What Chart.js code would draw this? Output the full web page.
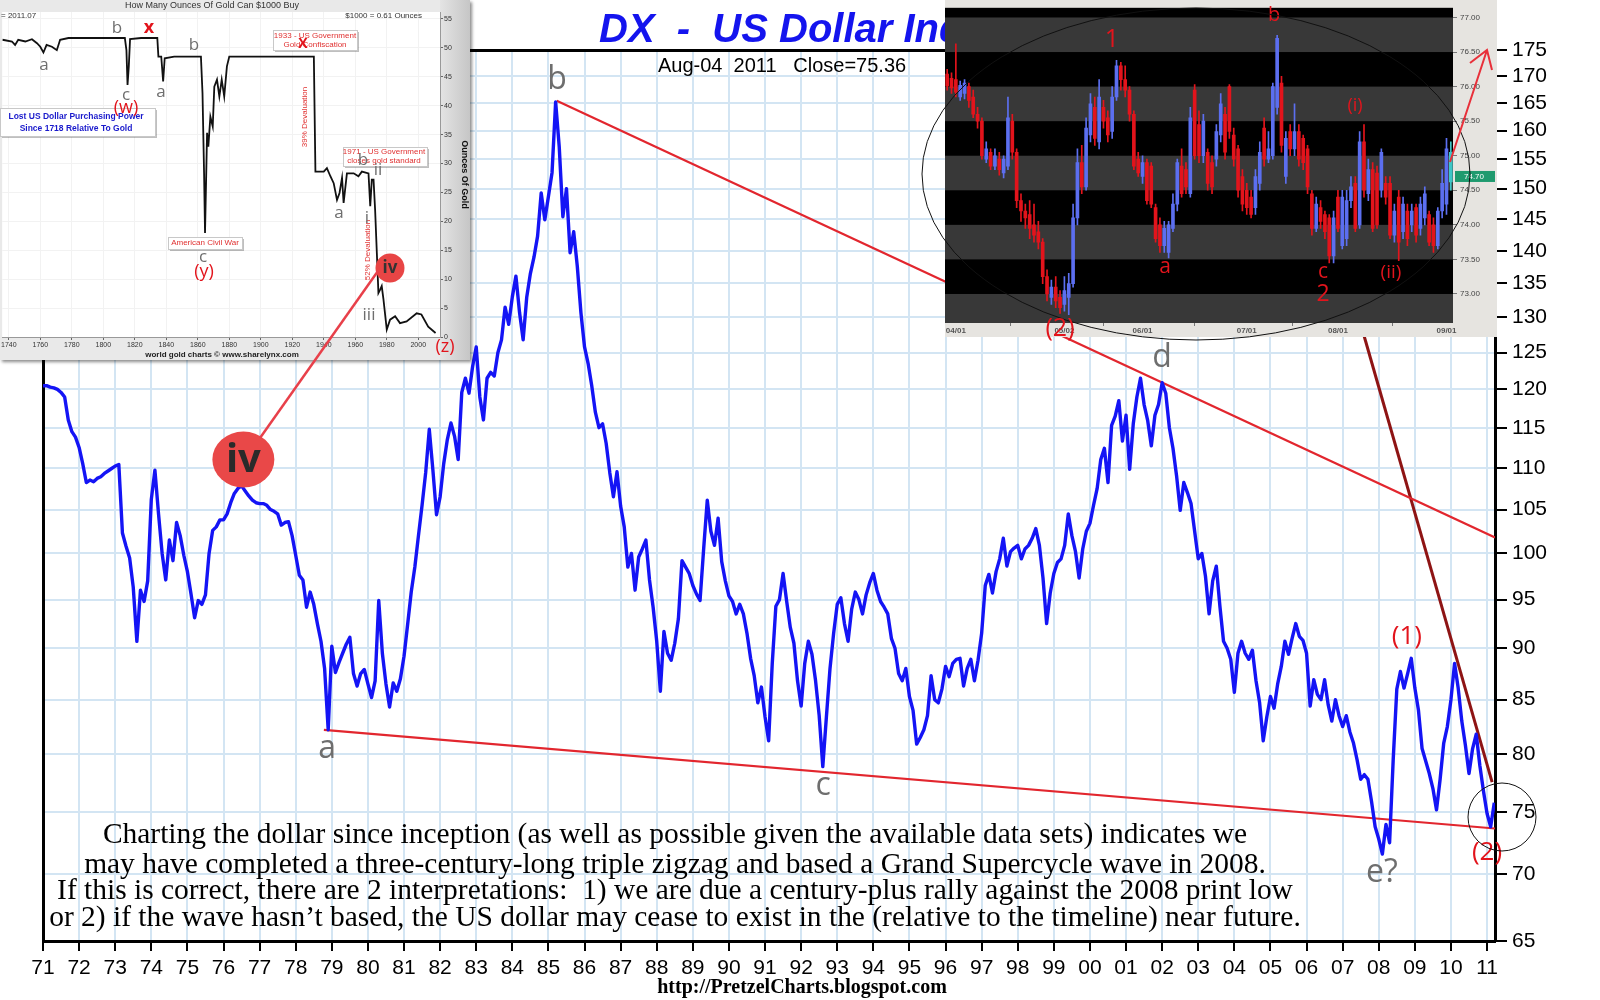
<!DOCTYPE html>
<html><head><meta charset="utf-8">
<script src="https://cdn.jsdelivr.net/npm/chart.js@4.4.1/dist/chart.umd.min.js"></script>
<style>
html,body{margin:0;padding:0;background:#fff;}
#wrap{position:relative;width:1600px;height:1000px;overflow:hidden;background:#fff;}
canvas{position:absolute;}
#main{left:0;top:0;}
#gold{left:0;top:0;background:#e9e9e9;box-shadow:2px 2px 3px rgba(0,0,0,0.45);}
#candle{left:945px;top:0;background:#e6e4e0;}
#over{left:0;top:0;pointer-events:none;}
</style></head>
<body><div id="wrap">
<canvas id="main" width="1600" height="1000"></canvas>
<canvas id="gold" width="470" height="360"></canvas>
<canvas id="candle" width="552" height="337"></canvas>
<canvas id="over" width="1600" height="1000"></canvas>
</div>
<script>
// ================= DATA =================
// Main chart: DX US Dollar Index, one reading every 0.1 year from 1971.0
const dxStartYear = 1971.0;
const dxStep = 0.1;
const dx1970s = [
  120.5,120.5,120.3,120.2,120.0,119.6,119.0,116.0,114.5,113.8,
  112.5,110.5,108.2,108.5,108.3,108.7,108.9,109.3,109.6,109.9,
  110.2,110.4,102.3,100.8,99.5,96.3,90.7,96.0,94.8,97.0,
  106.2,109.7,104.5,100.0,97.1,101.5,99.2,103.5,102.0,99.8,
  98.0,95.6,93.1,94.9,94.5,95.5,100.0,102.6,103.0,103.8,
  103.8,104.5,105.8,106.9,107.5,107.8,107.2,106.6,106.1,105.8,
  105.7,105.7,105.5,105.0,104.8,104.5,103.2,103.5,103.6,102.0,
  99.8,97.6,97.1,94.2,95.8,94.5,92.5,90.7,88.0,82.2,
  90.2,87.6,88.6,89.5,90.4,91.1,87.5,86.3,87.5,87.9
];
const dx1980s = [
  86.5,85.2,86.8,94.9,89.5,86.5,84.3,86.6,85.8,87.0,
  89.2,92.4,95.8,98.5,102.0,105.5,109.4,114.8,109.7,104.4,
  106.5,110.5,113.5,115.6,113.9,111.0,119.6,121.5,119.5,123.1,
  125.8,119.0,116.0,121.5,122.3,121.8,125.0,126.8,131.5,129.0,
  133.0,136.1,130.7,126.8,133.0,136.5,139.0,142.3,149.3,144.9,
  148.7,152.7,165.2,157.1,145.4,150.0,139.7,143.0,137.6,130.7,
  125.8,123.5,120.5,117.0,115.0,115.5,113.0,109.4,106.5,109.5,
  105.4,103.0,98.5,100.0,96.0,99.6,100.5,101.5,97.1,94.2,
  90.7,85.8,91.7,89.5,88.8,90.5,93.0,99.2,98.5,97.8,
  96.5,95.6,94.9,100.5,106.1,102.5,100.9,104.0,99.1,97.0
];
const dx1990s = [
  95.4,94.8,93.5,94.5,93.5,91.5,89.0,87.3,84.7,86.2,
  83.4,81.2,88.5,94.3,95.0,97.8,94.8,92.1,90.5,86.8,
  84.4,88.5,90.7,89.4,86.8,83.5,78.9,83.4,88.0,91.5,
  94.5,95.2,92.5,90.7,94.0,95.8,95.0,93.5,95.5,96.8,
  97.8,96.0,94.8,94.2,93.5,91.0,90.0,87.5,86.8,88.0,
  85.3,84.0,80.9,81.5,82.2,83.5,87.3,85.0,84.7,86.0,
  88.2,87.2,88.5,88.9,89.0,86.3,88.0,88.9,86.8,88.8,
  91.5,96.5,97.7,95.7,98.0,99.4,101.7,98.6,100.2,100.6,
  100.9,99.4,100.5,100.9,101.7,102.8,100.9,97.3,92.5,95.7,
  97.8,99.0,99.4,100.9,104.5,102.0,100.2,97.3,100.5,102.5
];
const dx2000s = [
  103.4,105.5,107.5,111.0,112.4,108.2,115.3,116.5,118.5,113.3,
  116.6,109.8,115.5,119.0,121.5,118.0,115.9,112.7,116.6,118.0,
  120.9,119.5,115.0,112.4,109.0,104.9,108.2,107.0,105.7,102.5,
  99.4,100.0,97.5,93.5,97.0,98.6,94.3,90.7,90.0,88.9,
  85.7,89.5,90.7,89.5,88.9,89.8,86.8,84.7,81.2,83.4,
  85.3,84.2,86.5,88.2,90.7,89.4,91.0,92.5,91.2,90.8,
  89.5,84.4,86.9,85.5,85.0,86.9,84.5,83.0,85.0,83.5,
  82.5,83.5,82.0,81.0,79.5,77.8,78.2,77.8,75.9,73.8,
  72.8,71.6,74.0,72.5,79.5,86.0,87.7,86.1,87.5,89.0,
  86.1,84.0,80.5,79.4,78.3,77.0,75.2,77.8,81.0,82.5
];
const dx2010s = [
  85.0,88.5,86.1,83.0,80.8,78.3,80.5,81.8,79.0,76.8,
  74.9,73.8,75.8
];

const yearTickValues = [1971,1972,1973,1974,1975,1976,1977,1978,1979,1980,1981,1982,1983,1984,1985,1986,1987,1988,1989,1990,1991,1992,1993,1994,1995,1996,1997,1998,1999,2000,2001,2002,2003,2004,2005,2006,2007,2008,2009,2010,2011];
const yearTickLabels = ['71','72','73','74','75','76','77','78','79','80','81','82','83','84','85','86','87','88','89','90','91','92','93','94','95','96','97','98','99','00','01','02','03','04','05','06','07','08','09','10','11'];
const valueTicks = [65,70,75,80,85,90,95,100,105,110,115,120,125,130,135,140,145,150,155,160,165,170,175];

// trend lines (year, value)
const lowerTrendYears = [1978.78, 2011.22];
const lowerTrendValues = [82.2, 73.66];
const upperTrendYears = [1985.23, 2011.22];
const upperTrendValues = [165.4, 101.8];
const steepTrendYears = [2007.37, 2011.14];
const steepTrendValues = [131.4, 77.55];

// wave labels (text, year, value)
const waveText = ['b','a','c','d','e?'];
const waveYears = [1985.24, 1978.87, 1992.61, 2002.0, 2008.09];
const waveValues = [169.3, 80.5, 77.2, 124.3, 70.1];
const redWaveText = ['(1)','(2)'];
const redWaveYears = [2008.78, 2011.0];
const redWaveValues = [91.2, 71.75];
const ivYear = 1976.55, ivValue = 111.0;

const noteLines = [
  'Charting the dollar since inception (as well as possible given the available data sets) indicates we',
  'may have completed a three-century-long triple zigzag and based a Grand Supercycle wave in 2008.',
  'If this is correct, there are 2 interpretations:  1) we are due a century-plus rally against the 2008 print low',
  'or 2) if the wave hasn\u2019t based, the US dollar may cease to exist in the (relative to the timeline) near future.'
];

// Gold inset: ounces of gold $1000 buys
const goldYears = [
  1736,1742,1744,1746,1750.5,1754.7,1757.9,1760,1762,1764,
  1767.4,1770.5,1772.6,1777.9,1784,1794.7,1805,1813.7,1814.7,1815.4,
  1816.2,1817,1824,1834.3,1835,1836.8,1838,1839,1845,1862,
  1863,1864,1864.6,1865.9,1866.7,1868,1869.5,1870.5,1872.2,1873.7,
  1875.2,1876.8,1878.5,1880,1904,1933.7,1934.7,1940,1942,1944.2,
  1946.3,1948.4,1950,1951.6,1952.6,1954.7,1959,1962,1964.2,1968.4,
  1969.5,1970.5,1971.6,1972.6,1973.7,1974.7,1975.8,1976.8,1977.9,1980,
  1982.1,1985.3,1988.4,1992.6,1999,2002,2006.3,2011
];
const goldOunces = [
  51.4,51.1,50.5,51.4,51.1,51.5,50.8,50.2,49.2,50.5,
  50.2,49.6,51.4,51.7,51.7,51.7,51.7,51.7,49.6,43.6,
  46.8,51.5,51.7,51.7,48.5,48.5,44.2,48.2,48.5,48.5,
  42.2,28.3,18.0,35.3,32.9,38.1,36.4,43.3,44.5,41.6,
  44.5,41.6,46.8,48.5,48.5,48.5,28.6,28.6,29.2,27.8,
  26.6,23.7,24.9,27.5,23.2,28.3,28.3,27.8,28.6,28.3,
  22.6,27.2,27.2,22.0,14.5,7.6,8.2,8.8,6.5,1.3,
  3.0,3.6,2.4,2.7,4.1,3.9,1.8,0.7
];
const goldTickYears = [1740,1760,1780,1800,1820,1840,1860,1880,1900,1920,1940,1960,1980,2000];
const goldTickOunces = [0,5,10,15,20,25,30,35,40,45,50,55];

// Candlestick inset (daily, Apr-Sep 2011)
const candleOpen = [
  76.18,76.12,76.10,75.85,75.90,76.00,75.85,75.60,75.50,74.95,
  75.05,74.85,74.95,74.75,74.85,75.50,75.05,74.35,74.20,74.15,
  74.00,73.90,73.75,73.25,72.95,73.10,72.95,72.85,72.95,73.15,
  74.10,74.90,74.55,75.30,75.70,75.20,75.70,75.55,75.35,75.85,
  76.30,76.10,75.95,75.60,74.95,74.70,74.90,74.85,74.25,74.00,
  73.70,73.60,73.95,74.30,74.85,74.80,74.45,75.95,75.45,75.00,
  75.05,74.90,74.95,75.30,75.60,76.00,75.30,75.10,74.70,74.50,
  74.40,74.25,74.60,75.40,74.95,75.00,75.70,76.05,74.70,75.35,
  75.10,75.35,75.25,75.10,74.45,73.95,74.25,74.15,74.10,73.55,
  74.40,73.70,73.80,74.35,74.60,74.00,75.20,74.45,74.80,74.75,
  74.50,74.60,74.60,73.85,74.40,73.90,74.20,74.00,74.25,73.95,
  74.10,74.15,74.00,73.70,74.20,74.30,74.62
];
const candleHigh = [
  76.25,76.20,76.62,76.08,76.10,76.05,75.95,75.70,75.55,75.20,
  75.10,75.10,75.05,75.00,75.85,75.60,75.10,74.45,74.30,74.35,
  74.30,74.05,73.80,73.35,73.20,73.25,73.05,73.25,73.30,74.30,
  75.10,75.15,75.55,75.90,75.85,76.10,75.80,75.65,76.00,76.38,
  76.35,76.30,76.00,75.65,75.05,75.00,74.95,74.90,74.30,74.10,
  74.05,74.05,74.45,74.95,75.10,74.90,75.70,76.03,75.65,75.60,
  75.10,75.00,75.45,75.90,75.70,76.03,75.40,75.15,74.80,74.60,
  74.50,74.80,75.20,75.55,75.35,76.05,76.74,76.15,75.35,75.45,
  75.75,75.45,75.30,75.15,74.50,74.40,74.35,74.20,74.15,74.20,
  74.50,74.50,74.50,74.70,74.70,75.35,75.45,74.95,74.90,74.85,
  75.10,74.70,74.70,74.30,74.50,74.40,74.30,74.30,74.30,74.40,
  74.55,74.20,74.10,74.25,74.80,75.25,75.20
];
const candleLow = [
  75.95,75.90,75.85,75.80,75.82,75.70,75.55,75.40,74.95,74.90,
  74.80,74.80,74.72,74.68,74.80,74.95,74.25,74.05,73.95,73.80,
  73.75,73.65,73.15,72.90,72.85,72.80,72.72,72.75,72.70,73.10,
  74.00,74.45,74.50,75.20,75.15,75.10,75.40,75.20,75.25,75.80,
  75.95,75.85,75.50,74.80,74.70,74.60,74.30,74.25,73.75,73.60,
  73.60,73.52,73.90,74.20,74.40,74.45,74.40,74.95,74.90,74.90,
  74.50,74.45,74.85,75.20,74.95,75.25,74.85,74.40,74.20,74.15,
  74.10,74.15,74.50,74.85,74.90,74.95,75.60,75.05,74.60,75.00,
  75.00,74.85,74.80,74.45,73.85,73.90,73.95,73.80,73.45,73.45,
  73.90,73.65,73.70,74.25,73.90,73.95,74.40,74.35,73.90,73.95,
  74.40,74.30,73.80,73.75,73.48,73.80,73.70,73.90,73.75,73.85,
  74.00,73.70,73.60,73.65,74.10,74.15,74.50
];
const candleClose = [
  76.01,75.98,75.92,76.02,76.05,75.80,75.60,75.50,75.00,75.10,
  74.85,75.00,74.80,74.95,75.55,75.05,74.35,74.20,74.10,73.95,
  73.85,73.75,73.25,73.00,73.10,72.90,72.80,73.05,73.15,74.10,
  74.90,74.55,75.40,75.75,75.25,75.85,75.50,75.30,75.85,76.30,
  76.10,75.95,75.60,74.85,74.75,74.90,74.35,74.30,73.80,73.70,
  73.95,74.00,74.30,74.90,74.45,74.55,75.55,75.00,75.00,75.50,
  74.60,74.55,75.35,75.75,75.05,75.35,74.95,74.50,74.30,74.25,
  74.15,74.70,75.05,74.95,75.10,76.00,76.70,75.15,75.25,75.10,
  75.35,74.95,74.90,74.55,73.95,74.30,74.05,73.90,73.55,74.10,
  73.95,74.40,74.35,74.55,73.95,75.20,74.50,74.80,73.95,74.00,
  75.05,74.40,73.85,74.20,73.75,74.30,73.80,74.20,73.85,74.30,
  74.45,73.75,73.70,74.20,74.60,75.10,75.05
];
const candleTickIdx = [2, 27, 45, 69, 90, 115];
const candleTickLabels = ['04/01','05/02','06/01','07/01','08/01','09/01'];
const candleValueTicks = [73.0,73.5,74.0,74.5,75.0,75.5,76.0,76.5,77.0];
const candleLastPrice = 74.70;

// ================= HELPERS =================
const pts = (xs, ys) => xs.map((x, i) => ({x: x, y: ys[i]}));
const dxValues = [].concat(dx1970s, dx1980s, dx1990s, dx2000s, dx2010s);
const dxPoints = dxValues.map((v, i) => ({x: +(dxStartYear + i * dxStep).toFixed(2), y: v}));
const RED = '#e2141c';
const GRAY = '#6e6e6e';

function txt(ctx, s, x, y, font, color, align, base) {
  ctx.font = font; ctx.fillStyle = color;
  ctx.textAlign = align || 'center'; ctx.textBaseline = base || 'middle';
  ctx.fillText(s, x, y);
}

// ================= MAIN CHART =================
const mainDecor = {
  id: 'mainDecor',
  afterDatasetsDraw(chart) {
    const {ctx} = chart; const x = chart.scales.x, y = chart.scales.y;
    ctx.save();
    const cx = x.getPixelForValue(ivYear), cy = y.getPixelForValue(ivValue);
    ctx.fillStyle = '#e94848';
    ctx.beginPath(); ctx.ellipse(cx, cy, 31, 28, 0, 0, Math.PI * 2); ctx.fill();
    txt(ctx, 'iv', cx, cy + 1, '700 40px "Open Sans"', '#2a2a2a');
    waveText.forEach((t, i) => txt(ctx, t, x.getPixelForValue(waveYears[i]), y.getPixelForValue(waveValues[i]), '32px "Open Sans"', GRAY));
    redWaveText.forEach((t, i) => txt(ctx, t, x.getPixelForValue(redWaveYears[i]), y.getPixelForValue(redWaveValues[i]), '26px "Open Sans"', RED));
    ctx.restore();
  },
  afterDraw(chart) {
    const {ctx} = chart;
    ctx.save();
    txt(ctx, 'DX  -  US Dollar Index', 599, 42, 'italic 700 40px "Liberation Sans"', '#1414ee', 'left', 'alphabetic');
    txt(ctx, 'Aug-04  2011   Close=75.36', 658, 72, '20px "Liberation Sans"', '#000', 'left', 'alphabetic');
    ctx.font = '100px "Liberation Serif"';
    const w = ctx.measureText(noteLines[3]).width;
    const fs = 100 * 1252 / w;
    const ys = [835, 865, 891, 918];
    noteLines.forEach((l, i) => txt(ctx, l, 675, ys[i], fs.toFixed(2) + 'px "Liberation Serif"', '#000'));
    txt(ctx, 'http://PretzelCharts.blogspot.com', 802, 988, '700 20px "Liberation Serif"', '#000');
    ctx.restore();
  }
};

const tickFont = {family: 'Liberation Sans', size: 21};
new Chart(document.getElementById('main'), {
  type: 'scatter',
  data: {datasets: [
    {data: dxPoints, showLine: true, borderColor: '#1414f5', borderWidth: 3.4, pointRadius: 0, borderJoinStyle: 'round'},
    {data: pts(lowerTrendYears, lowerTrendValues), showLine: true, borderColor: '#e2262e', borderWidth: 2.2, pointRadius: 0},
    {data: pts(upperTrendYears, upperTrendValues), showLine: true, borderColor: '#e2262e', borderWidth: 2.2, pointRadius: 0},
    {data: pts(steepTrendYears, steepTrendValues), showLine: true, borderColor: '#8e1414', borderWidth: 3, pointRadius: 0}
  ]},
  options: {
    responsive: false, animation: false, devicePixelRatio: 1,
    layout: {padding: {left: 43, top: 50, right: 0, bottom: 0}},
    plugins: {legend: {display: false}, tooltip: {enabled: false}},
    scales: {
      x: {type: 'linear', position: 'bottom', min: 1971, max: 2011.22,
        afterBuildTicks: s => { s.ticks = yearTickValues.map(v => ({value: v})); },
        afterFit: s => { s.height = 59; },
        ticks: {autoSkip: false, maxRotation: 0, minRotation: 0, color: '#000', font: tickFont, padding: 5,
          callback: (v, i) => yearTickLabels[i]},
        grid: {color: '#d3e5f3', lineWidth: 2, tickColor: '#000', tickLength: 10, tickWidth: 2},
        border: {color: '#000', width: 3}},
      y: {type: 'logarithmic', position: 'right', min: 65, max: 175,
        afterBuildTicks: s => { s.ticks = valueTicks.map(v => ({value: v})); },
        afterFit: s => { s.width = 105; },
        ticks: {autoSkip: false, color: '#000', font: tickFont, padding: 5, callback: v => String(v)},
        grid: {color: '#d3e5f3', lineWidth: 2, tickColor: '#000', tickLength: 12, tickWidth: 2},
        border: {color: '#000', width: 3}},
      xTop: {type: 'linear', position: 'top', min: 1971, max: 2011.22,
        grid: {display: false, drawTicks: false}, ticks: {display: false},
        border: {color: '#000', width: 3}, afterFit: s => { s.height = 0; }},
      yLeft: {type: 'linear', position: 'left', min: 0, max: 1,
        grid: {display: false, drawTicks: false}, ticks: {display: false},
        border: {color: '#000', width: 3}, afterFit: s => { s.width = 0; }}
    }
  },
  plugins: [mainDecor]
});

// ================= GOLD INSET =================
function noteBox(ctx, lines, cx, cy, x0, y0, x1, y1, color, font, gap) {
  ctx.fillStyle = 'rgba(0,0,0,0.25)'; ctx.fillRect(x0 + 2, y0 + 2, x1 - x0, y1 - y0);
  ctx.fillStyle = '#fff'; ctx.fillRect(x0, y0, x1 - x0, y1 - y0);
  ctx.strokeStyle = '#c8c8c8'; ctx.lineWidth = 1; ctx.strokeRect(x0 + 0.5, y0 + 0.5, x1 - x0, y1 - y0);
  lines.forEach((l, i) => txt(ctx, l, cx, cy + i * (gap || 9), font, color));
}
function vtext(ctx, s, x, y, font, color) {
  ctx.save(); ctx.translate(x, y); ctx.rotate(-Math.PI / 2); txt(ctx, s, 0, 0, font, color); ctx.restore();
}
const goldDecor = {
  id: 'goldDecor',
  beforeDraw(chart) {
    const {ctx, chartArea: a, width, height} = chart;
    ctx.save();
    const g = ctx.createLinearGradient(a.right, 0, width, 0);
    g.addColorStop(0, '#e4e4e4'); g.addColorStop(1, '#c6c6c6');
    ctx.fillStyle = g; ctx.fillRect(a.right, 0, width - a.right, height);
    ctx.fillStyle = '#fff'; ctx.fillRect(a.left, a.top, a.right - a.left, a.bottom - a.top);
    ctx.restore();
  },
  afterDraw(chart) {
    const {ctx} = chart;
    ctx.save();
    const sm = '8px "Liberation Sans"';
    txt(ctx, 'How Many Ounces Of Gold Can $1000 Buy', 212, 6, '9px "Liberation Sans"', '#333');
    txt(ctx, '= 2011.07', 1, 16, sm, '#333', 'left');
    txt(ctx, '$1000 = 0.61 Ounces', 422, 16, sm, '#333', 'right');
    txt(ctx, 'world gold charts \u00a9 www.sharelynx.com', 222, 355, '700 8px "Liberation Sans"', '#222');
    noteBox(ctx, ['Lost US Dollar Purchasing Power', 'Since 1718 Relative To Gold'], 76, 117, 0, 108, 155, 136, '#1a1acc', '700 8.5px "Liberation Sans"', 12);
    noteBox(ctx, ['American Civil War'], 205, 243, 168, 237, 242, 249, '#e03030', sm);
    noteBox(ctx, ['1933 - US Government', 'Gold Confiscation'], 315, 36, 273, 30, 357, 50, '#e03030', sm);
    noteBox(ctx, ['1971 - US Government', 'closes gold standard'], 384, 152, 343, 147, 427, 166, '#e03030', sm);
    vtext(ctx, '39% Devaluation', 305, 117, sm, '#e03030');
    vtext(ctx, '52% Devaluation', 368, 250, sm, '#e03030');
    const g = '17px "Open Sans"';
    [['b',117,28],['a',44,65],['c',126,95],['b',194,45],['a',161,92],['c',203,257],['a',339,213],['b',363,160],['ii',378,170],['i',367,218],['iii',369,315]]
      .forEach(p => txt(ctx, p[0], p[1], p[2], g, GRAY));
    [['(w)',126,108],['(y)',204,272],['(z)',445,347]].forEach(p => txt(ctx, p[0], p[1], p[2], '18px "Open Sans"', RED));
    txt(ctx, 'x', 149, 28, '700 18px "Open Sans"', RED);
    txt(ctx, 'X', 303, 44, '700 14px "Open Sans"', RED);
    ctx.fillStyle = '#e84545'; ctx.beginPath(); ctx.arc(390, 268, 14.5, 0, Math.PI * 2); ctx.fill();
    txt(ctx, 'iv', 390, 268, '700 17px "Open Sans"', '#333');
    ctx.restore();
  }
};
const smallFont = {family: 'Liberation Sans', size: 7};
new Chart(document.getElementById('gold'), {
  type: 'scatter',
  data: {datasets: [{data: pts(goldYears, goldOunces), showLine: true, borderColor: '#111', borderWidth: 1.8, pointRadius: 0}]},
  options: {
    responsive: false, animation: false, devicePixelRatio: 1,
    layout: {padding: {top: 12, left: 0, right: 0, bottom: 0}},
    plugins: {legend: {display: false}, tooltip: {enabled: false}},
    scales: {
      x: {type: 'linear', min: 1735.8, max: 2013.8,
        afterBuildTicks: s => { s.ticks = goldTickYears.map(v => ({value: v})); },
        afterFit: s => { s.height = 23; },
        ticks: {autoSkip: false, maxRotation: 0, font: smallFont, color: '#333', padding: 1, callback: v => String(v)},
        grid: {color: '#f2f2f2', tickLength: 3, tickColor: '#666'}, border: {color: '#999'}},
      y: {type: 'linear', position: 'right', min: 0, max: 56.2,
        afterBuildTicks: s => { s.ticks = goldTickOunces.map(v => ({value: v})); },
        afterFit: s => { s.width = 30; },
        ticks: {autoSkip: false, font: smallFont, color: '#333', padding: 1},
        grid: {color: '#f2f2f2', tickLength: 3, tickColor: '#666'}, border: {color: '#999'},
        title: {display: true, text: 'Ounces Of Gold', font: {family: 'Liberation Sans', size: 9, weight: 'bold'}, color: '#111', padding: 0}}
    }
  },
  plugins: [goldDecor]
});

// ================= CANDLE INSET =================
const lastIdx = candleOpen.length - 1;
const candleColors = candleOpen.map((o, i) => i === lastIdx ? '#3fc6c6' : (candleClose[i] >= o ? '#5c6ff0' : '#e3141c'));
const candleDecor = {
  id: 'candleDecor',
  beforeDraw(chart) {
    const {ctx, chartArea: a} = chart; const y = chart.scales.y;
    ctx.save();
    ctx.fillStyle = '#000'; ctx.fillRect(a.left, a.top, a.right - a.left, a.bottom - a.top);
    ctx.beginPath(); ctx.rect(a.left, a.top, a.right - a.left, a.bottom - a.top); ctx.clip();
    for (let lo = 72.0; lo < 77.5; lo += 0.5) {
      if (Math.round(lo * 2) % 2 === 1) {
        const t = y.getPixelForValue(lo + 0.5), b = y.getPixelForValue(lo);
        ctx.fillStyle = '#383838'; ctx.fillRect(a.left, t, a.right - a.left, b - t);
      }
    }
    ctx.restore();
  },
  afterDraw(chart) {
    const {ctx, chartArea: a} = chart; const y = chart.scales.y;
    ctx.save();
    const py = y.getPixelForValue(candleLastPrice);
    ctx.fillStyle = '#1f9a6e'; ctx.fillRect(a.right + 2, py - 5.5, 40, 11);
    txt(ctx, '74.70', a.right + 21, py, '8px "Liberation Sans"', '#fff');
    const r = '"Open Sans"';
    txt(ctx, '1', 167, 40, '25px ' + r, RED);
    txt(ctx, 'b', 329, 15, '20px ' + r, RED);
    txt(ctx, 'a', 220, 267, '21px ' + r, RED);
    txt(ctx, '(i)', 410, 106, '18px ' + r, RED);
    txt(ctx, 'c', 378, 272, '21px ' + r, RED);
    txt(ctx, '2', 378, 294, '23px ' + r, RED);
    txt(ctx, '(ii)', 446, 273, '19px ' + r, RED);
    ctx.restore();
  }
};
new Chart(document.getElementById('candle'), {
  type: 'bar',
  data: {datasets: [
    {data: candleLow.map((l, i) => ({x: i, y: [l, candleHigh[i]]})), backgroundColor: candleColors, barThickness: 1, grouped: false},
    {data: candleOpen.map((o, i) => ({x: i, y: [o, candleClose[i]]})), backgroundColor: candleColors, barThickness: 3, minBarLength: 1, grouped: false}
  ]},
  options: {
    responsive: false, animation: false, devicePixelRatio: 1,
    layout: {padding: 0},
    plugins: {legend: {display: false}, tooltip: {enabled: false}},
    scales: {
      x: {type: 'linear', min: -0.5, max: 116.5, offset: false,
        afterBuildTicks: s => { s.ticks = candleTickIdx.map(v => ({value: v})); },
        afterFit: s => { s.height = 14; },
        ticks: {autoSkip: false, maxRotation: 0, font: {family: 'Liberation Sans', size: 8, weight: 'bold'}, color: '#555', padding: 0,
          callback: (v, i) => candleTickLabels[i]},
        grid: {drawOnChartArea: false, tickLength: 3, tickColor: '#777'}, border: {display: false}},
      y: {type: 'linear', position: 'right', min: 72.58, max: 77.14,
        afterBuildTicks: s => { s.ticks = candleValueTicks.map(v => ({value: v})); },
        afterFit: s => { s.width = 44; },
        ticks: {autoSkip: false, font: {family: 'Liberation Sans', size: 8}, color: '#444', padding: 3, callback: v => v.toFixed(2)},
        grid: {drawOnChartArea: false, tickLength: 4, tickColor: '#777'}, border: {display: false}}
    }
  },
  plugins: [candleDecor]
});

// ================= OVERLAY ANNOTATIONS =================
const overDecor = {
  id: 'overDecor',
  afterDraw(chart) {
    const {ctx} = chart;
    ctx.save();
    ctx.strokeStyle = '#e8404a'; ctx.lineWidth = 2.5;
    ctx.beginPath(); ctx.moveTo(260, 438); ctx.lineTo(378, 271); ctx.stroke();
    ctx.strokeStyle = '#111'; ctx.lineWidth = 1;
    ctx.beginPath(); ctx.ellipse(1196, 174, 274, 166, 0, 0, Math.PI * 2); ctx.stroke();
    ctx.beginPath(); ctx.arc(1502, 817, 34, 0, Math.PI * 2); ctx.stroke();
    ctx.strokeStyle = '#e8303a'; ctx.lineWidth = 2;
    ctx.beginPath(); ctx.moveTo(1450, 162); ctx.lineTo(1487, 50); ctx.moveTo(1470, 63); ctx.lineTo(1487, 50); ctx.lineTo(1492, 70); ctx.stroke();
    txt(ctx, '(2)', 1060, 329, '25px "Open Sans"', RED);
    ctx.restore();
  }
};
new Chart(document.getElementById('over'), {
  type: 'scatter',
  data: {datasets: []},
  options: {responsive: false, animation: false, devicePixelRatio: 1,
    plugins: {legend: {display: false}, tooltip: {enabled: false}},
    scales: {x: {display: false, min: 0, max: 1}, y: {display: false, min: 0, max: 1}}},
  plugins: [overDecor]
});
</script>
</body></html>
